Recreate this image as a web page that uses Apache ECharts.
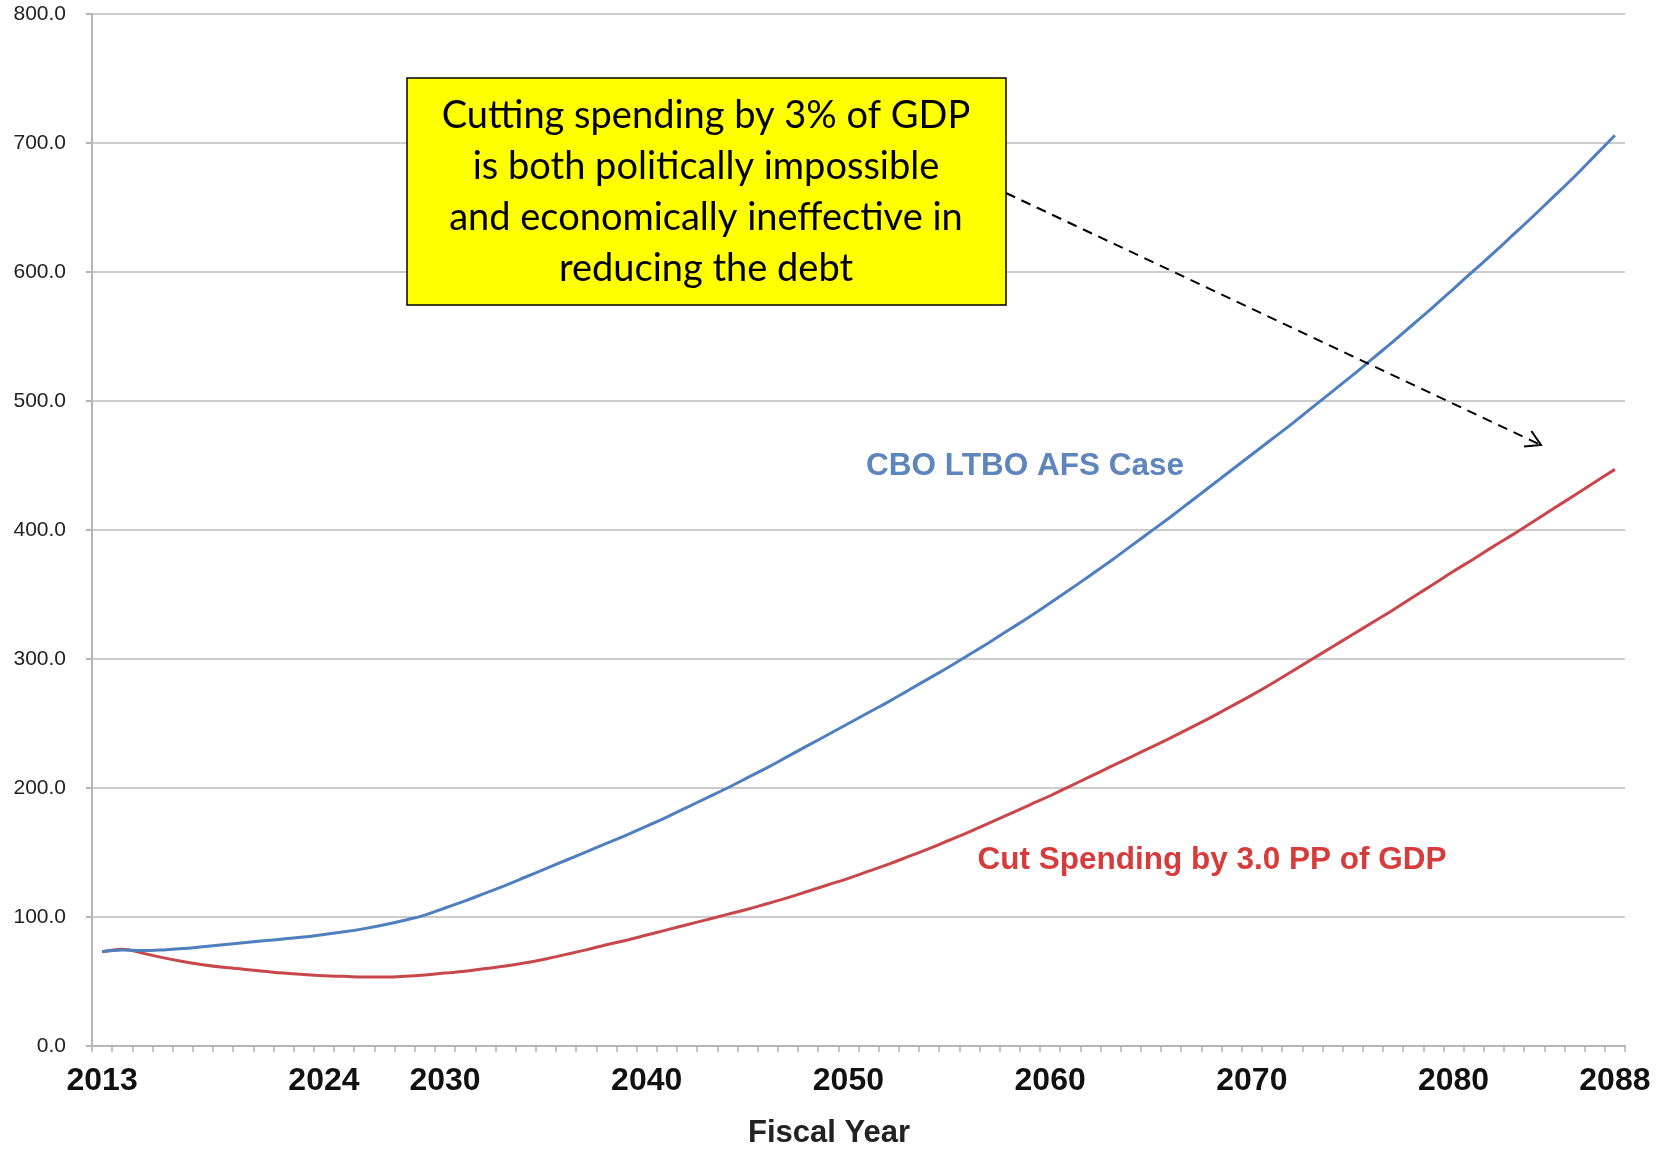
<!DOCTYPE html>
<html><head><meta charset="utf-8">
<script src="https://cdn.jsdelivr.net/npm/echarts@6/dist/echarts.min.js"></script>
<style>html,body{margin:0;padding:0;background:#fff}#c{width:1661px;height:1154px}</style>
</head><body><div id="c"></div>
<script>
const years = ['2013','2014','2015','2016','2017','2018','2019','2020','2021','2022','2023','2024','2025','2026','2027','2028','2029','2030','2031','2032','2033','2034','2035','2036','2037','2038','2039','2040','2041','2042','2043','2044','2045','2046','2047','2048','2049','2050','2051','2052','2053','2054','2055','2056','2057','2058','2059','2060','2061','2062','2063','2064','2065','2066','2067','2068','2069','2070','2071','2072','2073','2074','2075','2076','2077','2078','2079','2080','2081','2082','2083','2084','2085','2086','2087','2088'];
const labelYears = ['2013','2024','2030','2040','2050','2060','2070','2080','2088'];
const cboCase = [73,74.5,74,74.5,75.5,77,78.5,80,81.5,83,84.5,86.5,88.5,91,94,97.5,101.5,107,112.5,118.5,124.5,131,137.5,144,150.5,157,163.5,170.5,177.5,185,192.5,200,208,216,224.5,233,241.5,250,258.5,267,276,285,294,303.5,313,323,333,343.5,354,365,376,387.5,399,410.5,422.5,434.5,446.5,458.5,470.5,482.5,495,507.5,520,533,546,559.5,573,587,601,615,629.5,644,659,674,690,706];
const cutSpending = [73,75,72,68.5,65.5,63,61,59.5,58,56.5,55.5,54.5,54,53.5,53.5,54,55,56.5,58,60,62,64.5,67.5,71,74.5,78.5,82,86,90,94,98,102,106,110.5,115,120,125,130,135.5,141,147,153,159.5,166,173,180,187,194,201.5,209,216.5,224,231.5,239,247,255,263.5,272,281,290.5,300,309.5,319,328.5,338,348,358,368,377.5,387.5,397,407,417,427,437,447];
const seriesNames = ['CBO LTBO AFS Case','Cut Spending by 3.0 PP of GDP'];
const boxLines = ['Cutting spending by 3% of GDP','is both politically impossible','and economically ineffective in','reducing the debt'];

const chart = echarts.init(document.getElementById('c'));

// arrow geometry (annotation)
const a0 = [1006, 193], a1 = [1541, 445];
const ang = Math.atan2(a1[1]-a0[1], a1[0]-a0[0]);
const wl = 17, wa = Math.PI/6;
const w1 = [a1[0]-wl*Math.cos(ang-wa), a1[1]-wl*Math.sin(ang-wa)];
const w2 = [a1[0]-wl*Math.cos(ang+wa), a1[1]-wl*Math.sin(ang+wa)];

const boxFont = '38px Lato, "Open Sans", sans-serif';
const lblFont = 'bold 31.5px "Liberation Sans", Arial, sans-serif';
const gfx = [
  {type:'rect', shape:{x:407,y:78,width:599,height:227}, style:{fill:'#ffff00',stroke:'#000',lineWidth:1.5}, z:10},
  {type:'polyline', shape:{points:[a0,a1]}, style:{stroke:'#000',lineWidth:2,lineDash:[10,7],fill:null}, z:10},
  {type:'polyline', shape:{points:[w1,a1,w2]}, style:{stroke:'#000',lineWidth:2,fill:null}, z:10},
  {type:'text', x:1025, y:466, style:{text:seriesNames[0], font:lblFont, fill:'#5f85bd', align:'center', verticalAlign:'middle'}, z:10},
  {type:'text', x:1212, y:860, style:{text:seriesNames[1], font:lblFont, fill:'#d63c3c', align:'center', verticalAlign:'middle'}, z:10},
  {type:'text', x:829, y:1133, style:{text:'Fiscal Year', font:'bold 31px "Liberation Sans", Arial, sans-serif', fill:'#222', align:'center', verticalAlign:'middle'}, z:10}
];
const lineYs = [116, 167, 218, 269];
boxLines.forEach((t,i)=>gfx.push({type:'text', x:706, y:lineYs[i], style:{text:t, font:boxFont, fill:'#000', align:'center', verticalAlign:'middle'}, z:11}));

chart.setOption({
  animation:false,
  backgroundColor:'#fff',
  grid:{left:92, right:36, top:14, bottom:108, containLabel:false},
  xAxis:{
    type:'category', data:years, boundaryGap:true,
    axisLine:{lineStyle:{color:'#b5b5b5', width:2}},
    axisTick:{show:true, interval:0, length:6, lineStyle:{color:'#b0b0b0', width:1.5}},
    axisLabel:{interval:0, margin:19, color:'#111', fontSize:32, fontWeight:'bold', fontFamily:'"Liberation Sans", Arial, sans-serif',
      formatter:(v)=> labelYears.includes(v) ? v : ''},
    splitLine:{show:false}
  },
  yAxis:{
    type:'value', min:0, max:800, interval:100,
    axisLine:{show:true, lineStyle:{color:'#b5b5b5', width:2}},
    axisTick:{show:true, length:6, lineStyle:{color:'#b5b5b5', width:2}},
    axisLabel:{margin:26, color:'#222', fontSize:21, fontFamily:'"Liberation Sans", Arial, sans-serif', formatter:(v)=>v.toFixed(1)},
    splitLine:{lineStyle:{color:'#cccccc', width:2}}
  },
  series:[
    {name:seriesNames[0], type:'line', data:cboCase, symbol:'none', smooth:0.4, lineStyle:{color:'#4f7fbf', width:3}, z:3},
    {name:seriesNames[1], type:'line', data:cutSpending, symbol:'none', smooth:0.4, lineStyle:{color:'#c8474b', width:3}, z:2}
  ],
  graphic:gfx
});
</script></body></html>
